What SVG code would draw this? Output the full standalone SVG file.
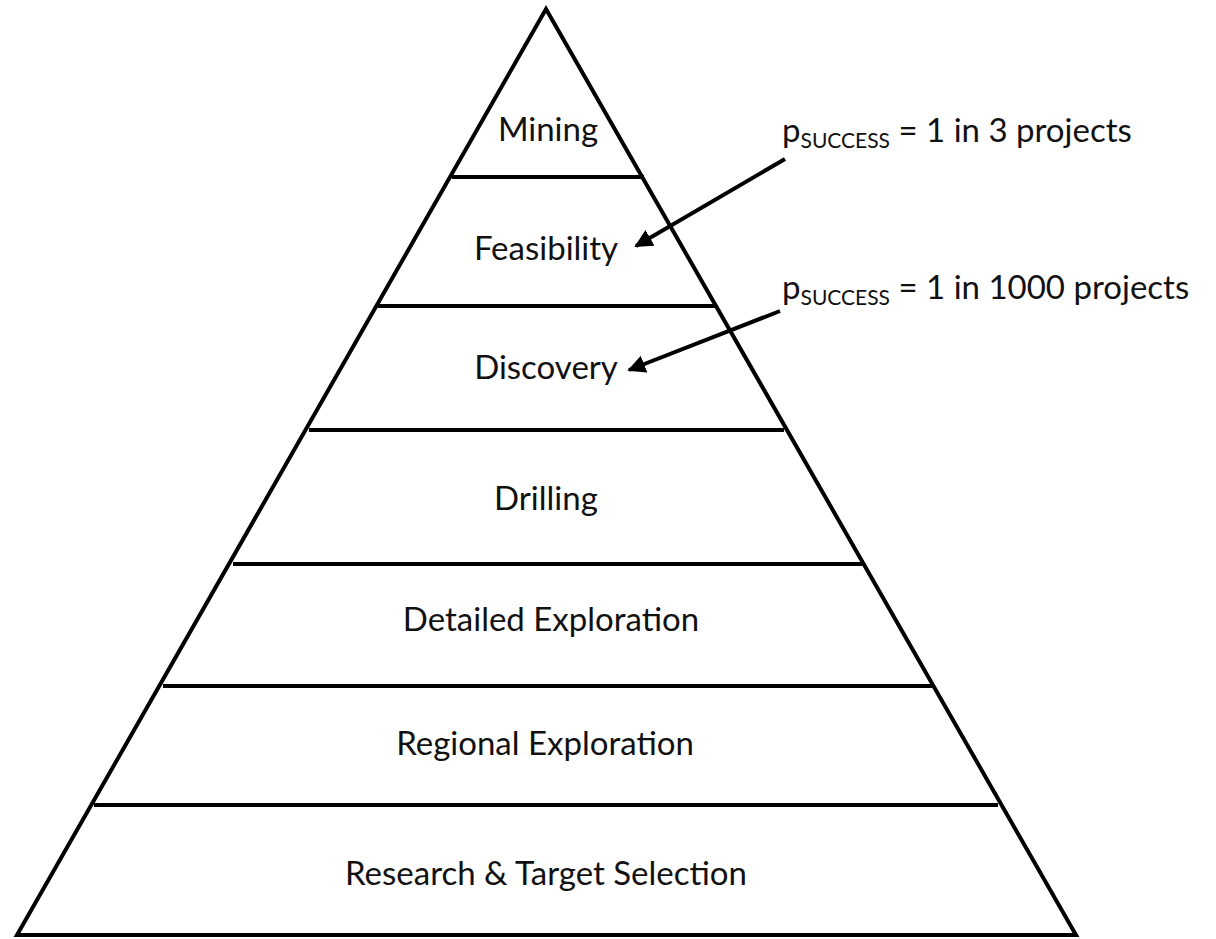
<svg xmlns="http://www.w3.org/2000/svg" width="1216" height="939" viewBox="0 0 1216 939">
  <style>
    .edge { fill: none; stroke: #000; stroke-width: 4; stroke-linejoin: miter; }
    .tier { stroke: #000; stroke-width: 4; }
    .label { font-family: Lato, "Open Sans", "Liberation Sans", sans-serif; font-size: 33px; fill: #111; text-anchor: middle; }
    .note { font-family: Lato, "Open Sans", "Liberation Sans", sans-serif; font-size: 33px; fill: #111; }
    .sub { font-size: 21px; }
    .arrow { stroke: #000; stroke-width: 4; fill: none; marker-end: url(#head); }
  </style>
  <defs>
    <marker id="head" viewBox="0 0 10 10" refX="9" refY="5" markerWidth="4.5" markerHeight="4.5" orient="auto" markerUnits="strokeWidth">
      <path d="M0,0 L10,5 L0,10 z" fill="#000"/>
    </marker>
  </defs>
  <rect width="1216" height="939" fill="#fff"/>

  <!-- pyramid outline -->
  <g id="pyramid">
    <path class="edge" d="M546,9 L1076,935 L17,935 Z"/>
  </g>

  <!-- tier dividers -->
  <g id="dividers">
    <line class="tier" x1="452" y1="177" x2="644" y2="177"/>
    <line class="tier" x1="378" y1="306" x2="716" y2="306"/>
    <line class="tier" x1="309" y1="430" x2="784" y2="430"/>
    <line class="tier" x1="233" y1="564" x2="862" y2="564"/>
    <line class="tier" x1="163" y1="686" x2="932" y2="686"/>
    <line class="tier" x1="94" y1="805" x2="998" y2="805"/>
  </g>

  <g id="mining"><text class="label" x="548" y="141">Mining</text></g>
  <g id="feasibility"><text class="label" x="546" y="260">Feasibility</text></g>
  <g id="discovery"><text class="label" x="546" y="379">Discovery</text></g>
  <g id="drilling"><text class="label" x="546" y="510">Drilling</text></g>
  <g id="detailed-exploration"><text class="label" x="551" y="631">Detailed Exploration</text></g>
  <g id="regional-exploration"><text class="label" x="545" y="755">Regional Exploration</text></g>
  <g id="research-target-selection"><text class="label" x="546" y="885">Research &amp; Target Selection</text></g>

  <!-- success probability notes -->
  <g id="note-feasibility">
    <text class="note" x="782" y="142">p<tspan class="sub" dy="6">SUCCESS</tspan><tspan dy="-6"> = 1 in 3 projects</tspan></text>
  </g>
  <g id="note-discovery">
    <text class="note" x="782" y="299">p<tspan class="sub" dy="6">SUCCESS</tspan><tspan dy="-6"> = 1 in 1000 projects</tspan></text>
  </g>

  <!-- connectors -->
  <g id="connectors">
    <line class="arrow" x1="785" y1="159" x2="636" y2="246"/>
    <line class="arrow" x1="780" y1="311" x2="629" y2="370"/>
  </g>
</svg>
